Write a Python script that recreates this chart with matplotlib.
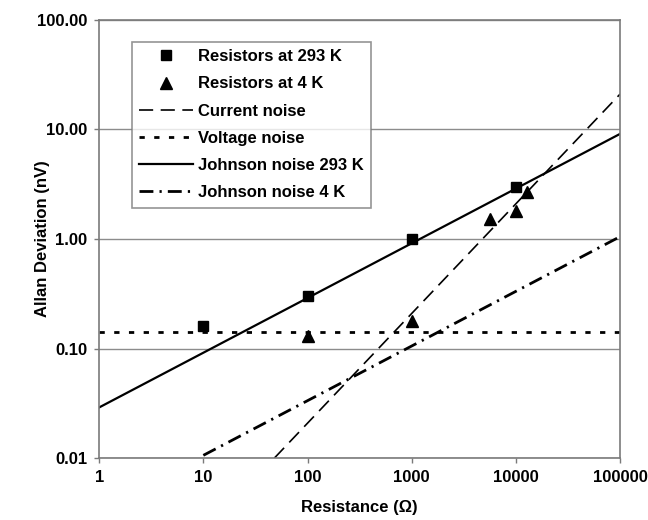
import matplotlib
matplotlib.use("Agg")
import matplotlib.pyplot as plt
from matplotlib.ticker import FixedLocator, FixedFormatter, NullLocator

plt.rcParams['font.family'] = ['Liberation Sans', 'DejaVu Sans']
plt.rcParams['font.weight'] = 'bold'

# measured resistors
r_293 = [10, 100, 1000, 10000]
adev_293 = [0.16, 0.30, 1.0, 3.0]
r_4 = [100, 1000, 5600, 10000, 12800]
adev_4 = [0.13, 0.177, 1.52, 1.8, 2.7]

# model lines (end points)
current_r = [48, 100000]
current_v = [0.01, 21.0]
voltage_r = [1, 100000]
voltage_v = [0.143, 0.143]
johnson293_r = [1, 100000]
johnson293_v = [0.029, 9.1]
johnson4_r = [10, 100000]
johnson4_v = [0.0106, 1.05]

x_ticks = [1, 10, 100, 1000, 10000, 100000]
x_labels = ['1', '10', '100', '1000', '10000', '100000']
y_ticks = [0.01, 0.1, 1, 10, 100]
y_labels = ['0.01', '0.10', '1.00', '10.00', '100.00']

fig = plt.figure(figsize=(6.48, 5.2), dpi=100)
ax = fig.add_axes([0.153, 0.119, 0.804, 0.843])

ax.plot(r_293, adev_293, 's', color='black', markersize=7, label='Resistors at 293 K', zorder=5)
ax.plot(r_4, adev_4, '^', color='black', markersize=8.5, label='Resistors at 4 K', zorder=5)
ax.plot(current_r, current_v, color='black', lw=1.2, dashes=(8.5, 4.5), label='Current noise')
ax.plot(voltage_r, voltage_v, color='black', lw=2, dashes=(1.9, 3.4), label='Voltage noise')
ax.plot(johnson293_r, johnson293_v, color='black', lw=1.6, label='Johnson noise 293 K')
ax.plot(johnson4_r, johnson4_v, color='black', lw=2, dashes=(5, 2.2, 0.8, 2.2),
        label='Johnson noise 4 K')

ax.set_xscale('log')
ax.set_yscale('log')
ax.set_xlim(1, 100000)
ax.set_ylim(0.01, 100)

ax.xaxis.set_major_locator(FixedLocator(x_ticks))
ax.xaxis.set_major_formatter(FixedFormatter(x_labels))
ax.xaxis.set_minor_locator(NullLocator())
ax.yaxis.set_major_locator(FixedLocator(y_ticks))
ax.yaxis.set_major_formatter(FixedFormatter(y_labels))
ax.yaxis.set_minor_locator(NullLocator())

ax.yaxis.grid(True, color='#8c8c8c', lw=1)
ax.set_axisbelow(True)
for s in ax.spines.values():
    s.set_color('#7a7a7a')
    s.set_linewidth(1.2)
ax.tick_params(direction='out', length=3.6, width=1, color='#7a7a7a', labelsize=12, pad=5)
for lab in ax.get_xticklabels() + ax.get_yticklabels():
    lab.set_fontweight('bold')

ax.set_xlabel('Resistance (Ω)', fontsize=12, fontweight='bold')
ax.set_ylabel('Allan Deviation (nV)', fontsize=12, fontweight='bold')
ax.xaxis.set_label_coords(0.5, -0.095)
ax.yaxis.set_label_coords(-0.094, 0.5)

leg = ax.legend(loc='upper left', bbox_to_anchor=(0.063, 0.95), fontsize=12,
                frameon=True, fancybox=False, edgecolor='#7a7a7a', handlelength=3.2,
                handletextpad=0.3, labelspacing=0.73, borderpad=0.45, borderaxespad=0)
leg.get_frame().set_linewidth(1.2)
for t in leg.get_texts():
    t.set_fontweight('bold')

fig.savefig('out.png', dpi=100)
